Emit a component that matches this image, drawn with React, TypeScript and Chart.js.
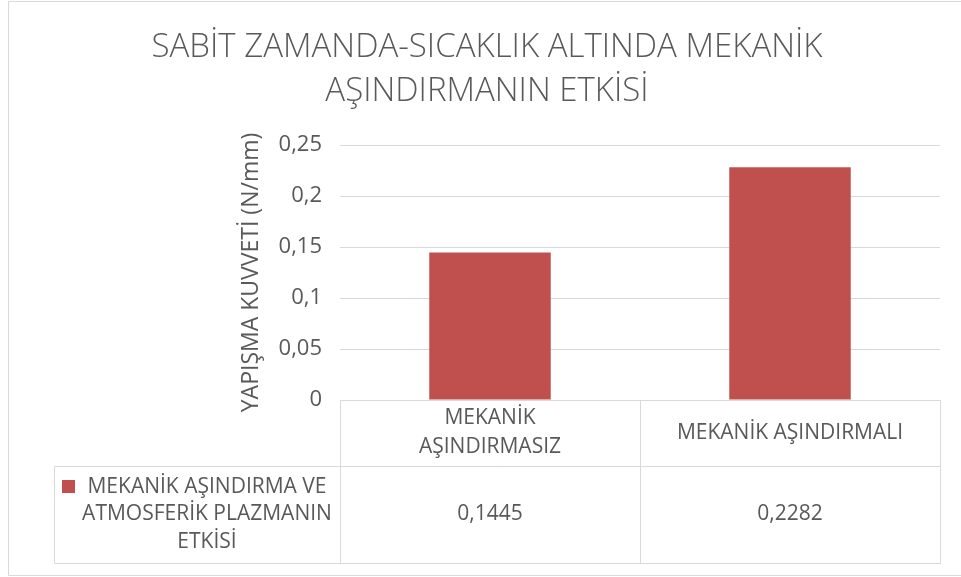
import { useEffect, useRef } from "react";
import { Chart, registerables } from "chart.js";

Chart.register(...registerables);

const titleLines = ["SABİT ZAMANDA-SICAKLIK ALTINDA MEKANİK", "AŞINDIRMANIN ETKİSİ"];
const categories = [["MEKANİK", "AŞINDIRMASIZ"], ["MEKANİK AŞINDIRMALI"]];
const seriesNameLines = ["MEKANİK AŞINDIRMA VE", "ATMOSFERİK PLAZMANIN", "ETKİSİ"];
const values = [0.1445, 0.2282];
const valueLabels = ["0,1445", "0,2282"];
const yTicks = [0, 0.05, 0.1, 0.15, 0.2, 0.25];
const yTickLabels = ["0", "0,05", "0,1", "0,15", "0,2", "0,25"];
const yTitle = "YAPIŞMA KUVVETİ (N/mm)";

const FONT = "'Open Sans', 'Liberation Sans', sans-serif";
const TEXT = "#595959";
const LINE = "#d9d9d9";
const BAR = "#c0504d";

const framePlugin = {
  id: "frameTitleTable",
  beforeDraw(chart: any) {
    const ctx = chart.ctx as CanvasRenderingContext2D;
    ctx.save();
    ctx.fillStyle = "#ffffff";
    ctx.fillRect(0, 0, chart.width, chart.height);
    ctx.strokeStyle = LINE;
    ctx.lineWidth = 1;
    ctx.beginPath();
    ctx.moveTo(chart.width, 1.5);
    ctx.lineTo(8.5, 1.5);
    ctx.lineTo(8.5, 575.5);
    ctx.lineTo(chart.width, 575.5);
    ctx.stroke();
    ctx.fillStyle = TEXT;
    ctx.font = `300 33px ${FONT}`;
    ctx.textAlign = "center";
    ctx.textBaseline = "middle";
    titleLines.forEach((t, i) => ctx.fillText(t, 487, 48 + i * 44));
    ctx.restore();
  },
  afterDraw(chart: any) {
    const ctx = chart.ctx as CanvasRenderingContext2D;
    const area = chart.chartArea;
    const xs = chart.scales.x;
    const n = categories.length;
    const cw = (area.right - area.left) / n;
    const bounds: number[] = [];
    for (let i = 0; i < n; i++) bounds.push(xs.getPixelForValue(i) - cw / 2);
    bounds.push(xs.getPixelForValue(n - 1) + cw / 2);
    const px = (v: number) => Math.round(v) + 0.5;
    const top = area.bottom;
    const rowY = top + 66;
    const bottom = top + 163;
    const legendLeft = 54;

    ctx.save();
    ctx.strokeStyle = LINE;
    ctx.lineWidth = 1;
    ctx.beginPath();
    bounds.forEach((b) => {
      ctx.moveTo(px(b), px(top));
      ctx.lineTo(px(b), px(bottom));
    });
    ctx.moveTo(px(legendLeft), px(rowY));
    ctx.lineTo(px(legendLeft), px(bottom));
    ctx.moveTo(px(bounds[0]), px(top));
    ctx.lineTo(px(bounds[n]), px(top));
    ctx.moveTo(px(legendLeft), px(rowY));
    ctx.lineTo(px(bounds[n]), px(rowY));
    ctx.moveTo(px(legendLeft), px(bottom));
    ctx.lineTo(px(bounds[n]), px(bottom));
    ctx.stroke();

    ctx.fillStyle = TEXT;
    ctx.textAlign = "center";
    ctx.textBaseline = "middle";
    ctx.font = `21px ${FONT}`;
    const headMid = (top + rowY) / 2;
    categories.forEach((lines, i) => {
      const cx = xs.getPixelForValue(i);
      const lh = 29;
      lines.forEach((l, j) => {
        ctx.fillText(l, cx, headMid + (j - (lines.length - 1) / 2) * lh);
      });
    });

    const dataMid = (rowY + bottom) / 2;
    valueLabels.forEach((v, i) => {
      ctx.fillText(v, xs.getPixelForValue(i), dataMid);
    });

    const lh2 = 27.5;
    seriesNameLines.forEach((l, j) => {
      ctx.fillText(l, 207, dataMid + (j - (seriesNameLines.length - 1) / 2) * lh2);
    });
    const firstY = dataMid - lh2;
    ctx.fillStyle = BAR;
    ctx.fillRect(62, Math.round(firstY - 7), 13, 13);
    ctx.restore();
  },
};

export default function App() {
  const ref = useRef<HTMLCanvasElement | null>(null);
  useEffect(() => {
    document.body.style.margin = "0";
    if (!ref.current) return;
    const chart = new Chart(ref.current, {
      type: "bar",
      data: {
        labels: categories.map((c) => c.join(" ")),
        datasets: [
          {
            label: seriesNameLines.join(" "),
            data: values,
            backgroundColor: BAR,
            borderWidth: 0,
            categoryPercentage: 1,
            barPercentage: 0.405,
          },
        ],
      },
      options: {
        animation: false,
        responsive: false,
        events: [],
        layout: { padding: { left: 8, right: 21, top: 145, bottom: 177 } },
        plugins: {
          legend: { display: false },
          title: { display: false },
          tooltip: { enabled: false },
        },
        scales: {
          x: { display: false, offset: true },
          y: {
            min: 0,
            max: 0.25,
            afterBuildTicks: (axis: any) => {
              axis.ticks = yTicks.map((v) => ({ value: v }));
            },
            afterFit: (axis: any) => {
              axis.width = 332;
            },
            border: { display: false },
            grid: { color: LINE, drawTicks: false, lineWidth: 1 },
            ticks: {
              padding: 18,
              color: TEXT,
              font: { family: FONT, size: 22 },
              callback: (_v: any, i: number) => yTickLabels[i],
            },
            title: {
              display: true,
              text: yTitle,
              color: TEXT,
              font: { family: FONT, size: 23 },
              padding: { top: 230, bottom: 0 },
            },
          },
        },
      },
      plugins: [framePlugin],
    });
    return () => chart.destroy();
  }, []);
  return (
    <div style={{ width: 961, height: 577 }}>
      <canvas ref={ref} width={961} height={577} style={{ display: "block" }} />
    </div>
  );
}
